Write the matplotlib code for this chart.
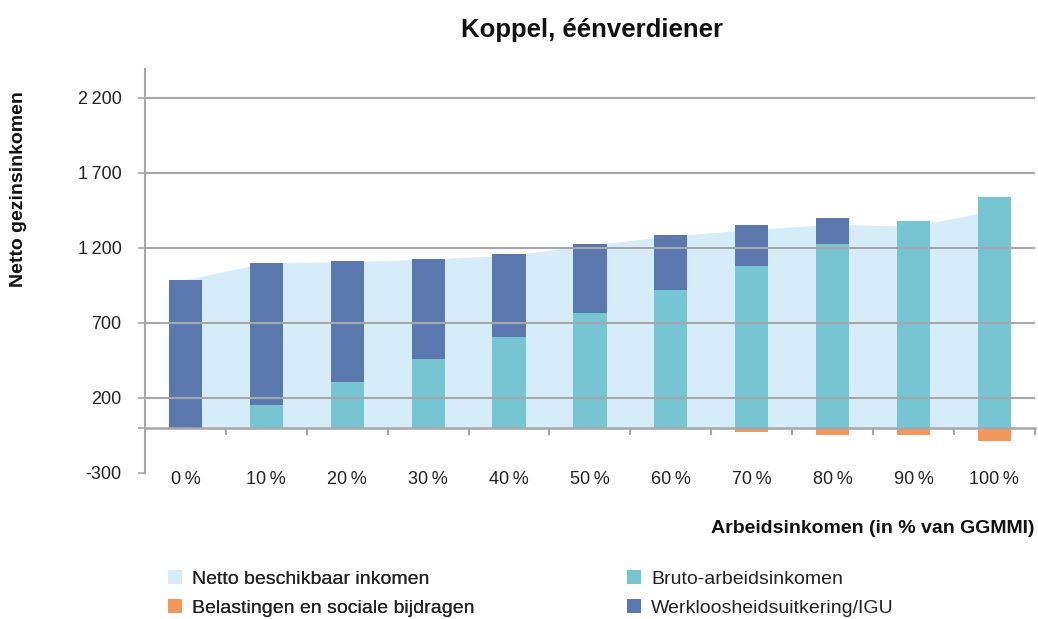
import matplotlib
matplotlib.use("Agg")
import matplotlib.pyplot as plt
from matplotlib.patches import Patch
import numpy as np

plt.rcParams['font.family'] = ['Liberation Sans', 'DejaVu Sans']

# Data
categories = ["0\u2009%", "10\u2009%", "20\u2009%", "30\u2009%", "40\u2009%", "50\u2009%",
              "60\u2009%", "70\u2009%", "80\u2009%", "90\u2009%", "100\u2009%"]
netto = [988, 1100, 1108, 1124, 1150, 1218, 1278, 1323, 1355, 1345, 1450]
bruto = [0, 148, 308, 461, 608, 768, 915, 1075, 1228, 1381, 1541]
uitkering = [988, 953, 807, 667, 553, 460, 373, 280, 173, 0, 0]
belasting = [0, 0, 0, 0, -10, -10, -10, -32, -47, -47, -92]

ytick_vals = [-300, 0, 200, 700, 1200, 1700, 2200]
ytick_labels = ["-300", "", "200", "700", "1\u2009200", "1\u2009700", "2\u2009200"]
grid_vals = [200, 700, 1200, 1700, 2200]

c_netto = "#d6ecf9"
c_bruto = "#77c4d2"
c_uitk = "#5a78ae"
c_bel = "#f5975a"
c_grid = "#a7a7a9"
c_text = "#222222"

fig = plt.figure(figsize=(10.38, 6.19), dpi=100)
ax = fig.add_axes([0.1397, 0.2364, 0.8573, 0.6516])

x = np.arange(len(categories))
w = 0.41

ax.fill_between(x, 0, netto, color=c_netto, linewidth=0, zorder=1)
ax.bar(x, bruto, width=w, color=c_bruto, zorder=2)
ax.bar(x, uitkering, width=w, bottom=bruto, color=c_uitk, zorder=2)
ax.bar(x, belasting, width=w, color=c_bel, zorder=2)

for g in grid_vals:
    ax.axhline(g, color=c_grid, linewidth=1.5, zorder=3)

ax.set_xlim(-0.5, len(categories) - 0.5)
ax.set_ylim(-300, 2390)

ax.set_yticks(ytick_vals)
ax.set_yticklabels(ytick_labels)
ax.tick_params(axis='y', direction='out', length=5, width=1.2, color=c_grid,
               labelsize=13, labelcolor=c_text, pad=12)

# x axis sits on the zero line
ax.spines['bottom'].set_position(('data', 0))
ax.spines['bottom'].set_color(c_grid)
ax.spines['bottom'].set_linewidth(1.8)
ax.spines['bottom'].set_zorder(4)
ax.spines['left'].set_color(c_grid)
ax.spines['left'].set_linewidth(1.5)
ax.spines['top'].set_visible(False)
ax.spines['right'].set_visible(False)

ax.set_xticks(x)
ax.set_xticklabels(categories)
ax.set_xticks(np.arange(len(categories)) + 0.5, minor=True)
ax.tick_params(axis='x', which='major', length=0, pad=31, labelsize=13,
               labelcolor=c_text)
ax.tick_params(axis='x', which='minor', direction='out', length=5, width=1.5,
               color=c_grid)

fig.text(0.570, 0.952, "Koppel, éénverdiener", ha='center', va='center',
         fontsize=18.5, fontweight='bold', color="#111111")
fig.text(0.018, 0.695, "Netto gezinsinkomen", rotation=90, ha='center', va='center',
         fontsize=14, fontweight='bold', color="#111111")
fig.text(0.997, 0.147, "Arbeidsinkomen (in % van GGMMI)", ha='right', va='center',
         fontsize=14, fontweight='bold', color="#111111")

h_left = [
    Patch(facecolor=c_netto, label="Netto beschikbaar inkomen"),
    Patch(facecolor=c_bel, label="Belastingen en sociale bijdragen"),
]
h_right = [
    Patch(facecolor=c_bruto, label="Bruto-arbeidsinkomen"),
    Patch(facecolor=c_uitk, label="Werkloosheidsuitkering/IGU"),
]
leg_kw = dict(loc='upper left', frameon=False, fontsize=14, handlelength=0.7,
              handleheight=0.7, handletextpad=0.55, labelspacing=0.6,
              borderaxespad=0, borderpad=0, labelcolor=c_text)
leg1 = fig.legend(handles=h_left, bbox_to_anchor=(0.162, 0.079), **leg_kw)
fig.add_artist(leg1)
fig.legend(handles=h_right, bbox_to_anchor=(0.604, 0.079), **leg_kw)

fig.savefig("out.png", dpi=100)
